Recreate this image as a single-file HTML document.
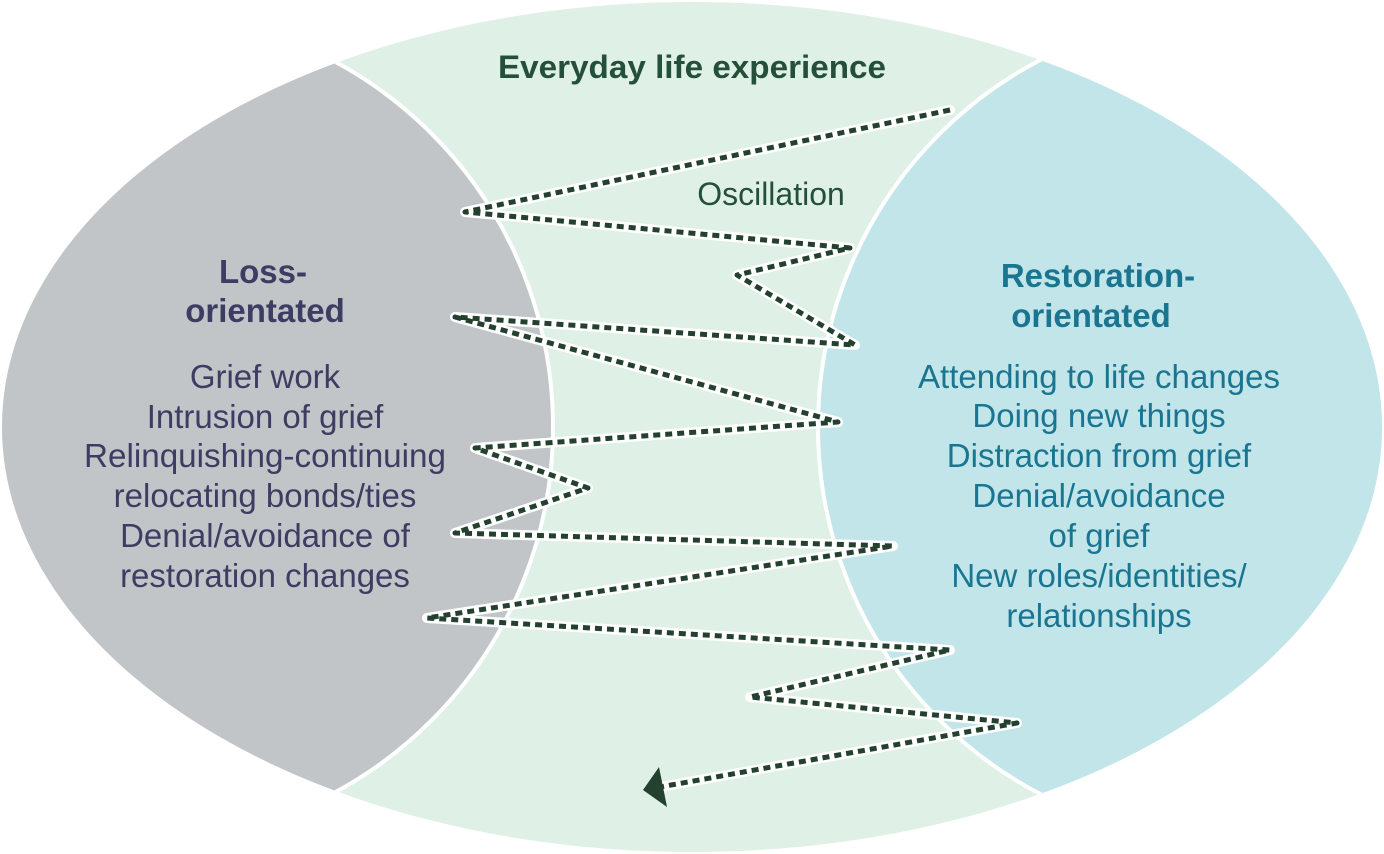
<!DOCTYPE html>
<html><head><meta charset="utf-8"><style>
html,body{margin:0;padding:0;background:#fff;}
svg{display:block;}
text{font-family:"Liberation Sans",Arial,sans-serif;text-anchor:middle;}
</style></head><body>
<svg width="1384" height="854" viewBox="0 0 1384 854" xmlns="http://www.w3.org/2000/svg">
<defs>
<clipPath id="el"><ellipse cx="692" cy="427" rx="690" ry="425"/></clipPath>
</defs>
<ellipse cx="692" cy="427" rx="690" ry="425" fill="#dff0e6"/>
<g clip-path="url(#el)">
<circle cx="138" cy="427" r="415" fill="#c1c5c8" stroke="#fff" stroke-width="4"/>
<circle cx="1232" cy="427" r="414" fill="#c2e5ea" stroke="#fff" stroke-width="4"/>
</g>
<text x="692" y="78" font-size="32" font-weight="bold" fill="#24503a" textLength="388" lengthAdjust="spacingAndGlyphs">Everyday life experience</text>
<text x="771" y="205" font-size="32" fill="#24503a">Oscillation</text>
<g fill="#3d3d63" font-size="33">
<text x="263" y="283" font-weight="bold">Loss-</text>
<text x="265" y="322" font-weight="bold">orientated</text>
<text x="265" y="388">Grief work</text>
<text x="265" y="428">Intrusion of grief</text>
<text x="265" y="467" textLength="362" lengthAdjust="spacingAndGlyphs">Relinquishing-continuing</text>
<text x="265" y="507">relocating bonds/ties</text>
<text x="265" y="547">Denial/avoidance of</text>
<text x="265" y="587">restoration changes</text>
</g>
<g fill="#1a7591" font-size="33">
<text x="1098" y="287" font-weight="bold">Restoration-</text>
<text x="1091" y="327" font-weight="bold">orientated</text>
<text x="1099" y="388" textLength="362" lengthAdjust="spacingAndGlyphs">Attending to life changes</text>
<text x="1099" y="427">Doing new things</text>
<text x="1099" y="467">Distraction from grief</text>
<text x="1099" y="507">Denial/avoidance</text>
<text x="1099" y="547">of grief</text>
<text x="1099" y="587">New roles/identities/</text>
<text x="1099" y="627">relationships</text>
</g>
<g fill="none" stroke-linejoin="round" stroke-linecap="round">
<polyline points="950,110 465,212 850,248 737,275 855,345 455,317 838,422 475,448 588,488 455,533 893,546 427,618 950,650 750,697 1017,723 660,787" stroke="#fff" stroke-width="10"/>
<polyline points="950,110 465,212 850,248 737,275 855,345 455,317 838,422 475,448 588,488 455,533 893,546 427,618 950,650 750,697 1017,723 660,787" stroke="#24402f" stroke-width="5" stroke-dasharray="7,5" stroke-linecap="butt"/>
</g>
<polygon points="643,790 659,767 667,807" fill="#24402f"/>
</svg>
</body></html>
